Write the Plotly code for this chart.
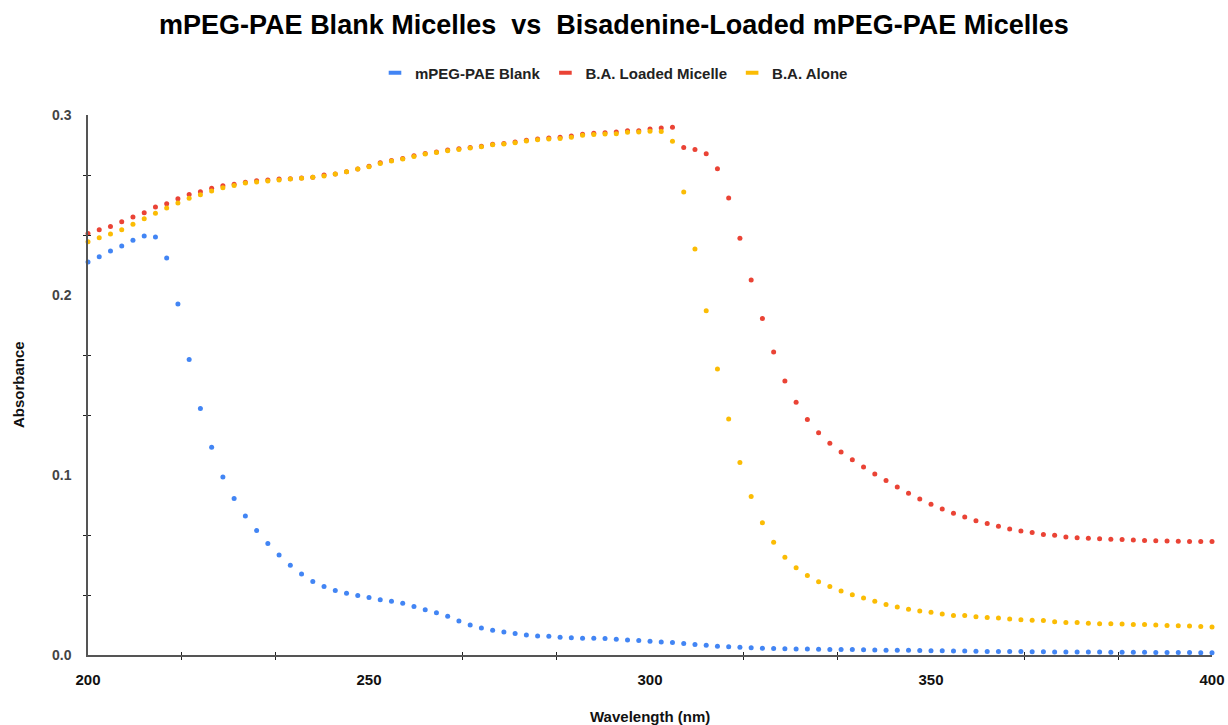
import plotly.graph_objects as go

wavelength = list(range(200, 401, 2))

blank = [
    0.2183, 0.2213, 0.2244, 0.2272, 0.2304, 0.2328, 0.2322, 0.2206, 0.1950, 0.1641,
    0.1369, 0.1154, 0.0989, 0.0869, 0.0772, 0.0691, 0.0619, 0.0556, 0.0498, 0.0450,
    0.0409, 0.0381, 0.0359, 0.0343, 0.0330, 0.0319, 0.0307, 0.0298, 0.0287, 0.0269,
    0.0252, 0.0235, 0.0215, 0.0189, 0.0167, 0.0150, 0.0137, 0.0128, 0.0120, 0.0111,
    0.0106, 0.0104, 0.0098, 0.0096, 0.0093, 0.0093, 0.0091, 0.0087, 0.0083, 0.0080,
    0.0076, 0.0072, 0.0070, 0.0064, 0.0059, 0.0054, 0.0048, 0.0046, 0.0043, 0.0040,
    0.0037, 0.0036, 0.0035, 0.0034, 0.0033, 0.0032, 0.0031, 0.0030, 0.0030, 0.0029,
    0.0028, 0.0027, 0.0026, 0.0026, 0.0025, 0.0024, 0.0023, 0.0022, 0.0022, 0.0021,
    0.0020, 0.0020, 0.0020, 0.0019, 0.0018, 0.0018, 0.0017, 0.0017, 0.0016, 0.0016,
    0.0016, 0.0015, 0.0015, 0.0015, 0.0015, 0.0014, 0.0014, 0.0014, 0.0014, 0.0013,
    0.0013,
]

loaded = [
    0.2341, 0.2363, 0.2380, 0.2407, 0.2433, 0.2457, 0.2489, 0.2507, 0.2535, 0.2559,
    0.2574, 0.2593, 0.2607, 0.2615, 0.2626, 0.2635, 0.2639, 0.2644, 0.2646, 0.2650,
    0.2654, 0.2667, 0.2672, 0.2685, 0.2700, 0.2715, 0.2735, 0.2747, 0.2759, 0.2773,
    0.2786, 0.2794, 0.2805, 0.2812, 0.2820, 0.2827, 0.2838, 0.2842, 0.2850, 0.2860,
    0.2867, 0.2872, 0.2876, 0.2883, 0.2893, 0.2898, 0.2902, 0.2906, 0.2913, 0.2913,
    0.2922, 0.2928, 0.2932, 0.2820, 0.2809, 0.2785, 0.2702, 0.2539, 0.2315, 0.2083,
    0.1870, 0.1683, 0.1522, 0.1404, 0.1309, 0.1235, 0.1176, 0.1128, 0.1085, 0.1044,
    0.1006, 0.0969, 0.0933, 0.0898, 0.0867, 0.0837, 0.0811, 0.0787, 0.0767, 0.0746,
    0.0730, 0.0715, 0.0700, 0.0689, 0.0680, 0.0670, 0.0665, 0.0656, 0.0652, 0.0648,
    0.0646, 0.0643, 0.0642, 0.0639, 0.0636, 0.0635, 0.0633, 0.0632, 0.0631, 0.0630,
    0.0630,
]

alone = [
    0.2296, 0.2318, 0.2339, 0.2363, 0.2393, 0.2424, 0.2454, 0.2483, 0.2511, 0.2537,
    0.2557, 0.2578, 0.2596, 0.2609, 0.2622, 0.2628, 0.2633, 0.2639, 0.2644, 0.2648,
    0.2654, 0.2661, 0.2672, 0.2685, 0.2700, 0.2713, 0.2731, 0.2744, 0.2756, 0.2770,
    0.2783, 0.2791, 0.2802, 0.2809, 0.2817, 0.2824, 0.2835, 0.2839, 0.2846, 0.2856,
    0.2863, 0.2867, 0.2870, 0.2876, 0.2887, 0.2891, 0.2894, 0.2896, 0.2904, 0.2906,
    0.2910, 0.2909, 0.2854, 0.2572, 0.2256, 0.1912, 0.1589, 0.1311, 0.1070, 0.0881,
    0.0735, 0.0626, 0.0543, 0.0485, 0.0441, 0.0407, 0.0380, 0.0356, 0.0335, 0.0317,
    0.0298, 0.0281, 0.0267, 0.0254, 0.0244, 0.0237, 0.0228, 0.0220, 0.0219, 0.0213,
    0.0209, 0.0206, 0.0200, 0.0196, 0.0193, 0.0191, 0.0185, 0.0181, 0.0180, 0.0176,
    0.0174, 0.0173, 0.0172, 0.0170, 0.0169, 0.0167, 0.0164, 0.0163, 0.0161, 0.0158,
    0.0156,
]

series_names = ["mPEG-PAE Blank", "B.A. Loaded Micelle", "B.A. Alone"]
series_colors = ["#4285F4", "#EA4335", "#FBBC04"]
x_tick_vals = [200, 250, 300, 350, 400]
y_tick_vals = [0.0, 0.1, 0.2, 0.3]
y_tick_text = ["0.0", "0.1", "0.2", "0.3"]

FONT = "Liberation Sans, Arial, sans-serif"

# minor tick positions (thirds between the labelled ticks)
x_minor = [a + d for a in x_tick_vals[:-1] for d in (50 / 3, 100 / 3)]
y_minor = [a + d for a in y_tick_vals[:-1] for d in (0.1 / 3, 0.2 / 3)]

fig = go.Figure()
for vals, name, col in zip([blank, loaded, alone], series_names, series_colors):
    fig.add_trace(go.Scatter(
        x=wavelength, y=vals, mode="markers", name=name, showlegend=False,
        marker=dict(color=col, size=5, line=dict(width=0)),
        cliponaxis=False,
    ))
# legend entries (short bar symbols), placed on the overlay axes
for name, col in zip(series_names, series_colors):
    fig.add_trace(go.Scatter(
        x=[None], y=[None], mode="markers", name=name, showlegend=True,
        marker=dict(symbol="line-ew-open", size=9, color=col,
                    line=dict(color=col, width=4)),
        xaxis="x2", yaxis="y2",
    ))

axis_col = "#555555"
fig.update_layout(
    width=1228, height=725,
    margin=dict(l=88, r=16, t=115, b=70, autoexpand=False),
    paper_bgcolor="white", plot_bgcolor="white",
    title=dict(
        text="mPEG-PAE Blank Micelles  vs  Bisadenine-Loaded mPEG-PAE Micelles",
        x=0.5, xref="container", xanchor="center",
        y=1 - 25 / 725, yref="container", yanchor="middle",
        font=dict(family=FONT, size=27, color="#000000", weight="bold"),
    ),
    legend=dict(
        orientation="h", xref="container", x=0.5, xanchor="center",
        yref="container", y=1 - 73 / 725, yanchor="middle",
        font=dict(family=FONT, size=15, color="#222222", weight="bold"),
        itemwidth=30, bgcolor="rgba(0,0,0,0)",
    ),
    xaxis=dict(
        range=[200, 400], showgrid=False, zeroline=False, automargin=False,
        showline=True, linecolor=axis_col, linewidth=1.5,
        tickmode="array", tickvals=x_tick_vals, ticks="outside", ticklen=0,
        ticklabelstandoff=10,
        tickfont=dict(family=FONT, size=15, color="#111111", weight="bold"),
        minor=dict(tickmode="array", tickvals=x_minor, ticks="outside",
                   ticklen=3, tickwidth=1, tickcolor="#222222", showgrid=False),
    ),
    yaxis=dict(
        range=[0, 0.3], showgrid=False, zeroline=False, automargin=False,
        showline=True, linecolor=axis_col, linewidth=1.5,
        tickmode="array", tickvals=y_tick_vals, ticktext=y_tick_text,
        ticks="outside", ticklen=0, ticklabelstandoff=12,
        tickfont=dict(family=FONT, size=14, color="#444444", weight="bold"),
        minor=dict(tickmode="array", tickvals=y_minor, ticks="outside",
                   ticklen=3, tickwidth=1, tickcolor="#222222", showgrid=False),
    ),
    xaxis2=dict(
        range=[200, 400], overlaying="x", anchor="y2", side="bottom",
        automargin=False,
        showgrid=False, zeroline=False, showline=False, showticklabels=False,
        tickmode="array", tickvals=[], ticks="",
        minor=dict(tickmode="array", tickvals=x_minor, ticks="inside",
                   ticklen=3, tickwidth=1, tickcolor="#222222", showgrid=False),
    ),
    yaxis2=dict(
        range=[0, 0.3], overlaying="y", anchor="x2", side="left",
        automargin=False,
        showgrid=False, zeroline=False, showline=False, showticklabels=False,
        tickmode="array", tickvals=[], ticks="",
        minor=dict(tickmode="array", tickvals=y_minor, ticks="inside",
                   ticklen=3, tickwidth=1, tickcolor="#222222", showgrid=False),
    ),
    annotations=[
        dict(text="Wavelength (nm)", xref="paper", yref="paper",
             x=0.5, y=(655 - 717) / 540, xanchor="center", yanchor="middle",
             showarrow=False,
             font=dict(family=FONT, size=15, color="#111111", weight="bold")),
        dict(text="Absorbance", xref="paper", yref="paper",
             x=(18 - 88) / 1124, y=0.5, xanchor="center", yanchor="middle",
             textangle=-90, showarrow=False,
             font=dict(family=FONT, size=15, color="#111111", weight="bold")),
    ],
)

fig.write_html("out.html")
